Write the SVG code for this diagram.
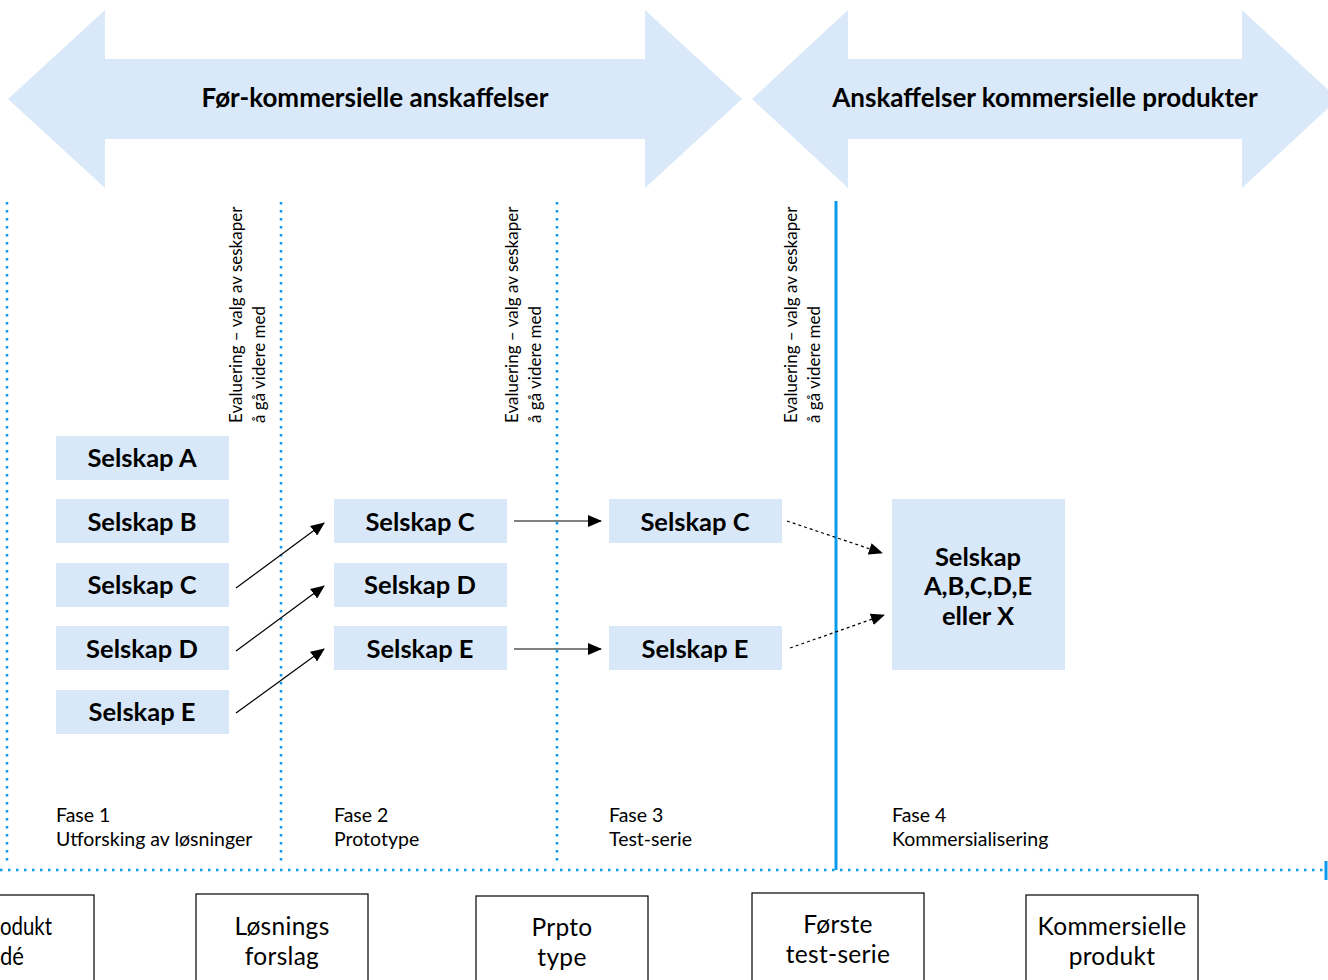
<svg xmlns="http://www.w3.org/2000/svg" width="1328" height="980" viewBox="0 0 1328 980">
<style>
.band{fill:#D9E9F9}
.box{fill:#D8E8F8}
.hdr{font-family:Lato,"Liberation Sans",sans-serif;font-weight:bold;font-size:26px;fill:#000;text-anchor:middle}
.sel{font-family:Lato,"Liberation Sans",sans-serif;font-weight:bold;font-size:25.5px;fill:#000;text-anchor:middle}
.rot{font-family:Lato,"Liberation Sans",sans-serif;font-size:17px;fill:#000}
.fase{font-family:Lato,"Liberation Sans",sans-serif;font-size:19.5px;fill:#000}
.bot{font-family:Lato,"Liberation Sans",sans-serif;font-size:24.5px;letter-spacing:0.3px;fill:#000;text-anchor:middle}
.dot{stroke:#0A9BEB;stroke-width:2.5;stroke-dasharray:2.5 5.5;fill:none}
.solid{stroke:#0A9BEB;stroke-width:3;fill:none}
.con{stroke:#000;stroke-width:1.2;fill:none}
.dash{stroke:#000;stroke-width:1.2;stroke-dasharray:3 3;fill:none}
.bbox{fill:#fff;stroke:#000;stroke-width:1.2}
</style>
<defs>
<marker id="ah" markerWidth="14" markerHeight="12" refX="13" refY="6" orient="auto" markerUnits="userSpaceOnUse">
<path d="M0,0 L14,6 L0,12 Z" fill="#000"/>
</marker>
</defs>
<rect width="1328" height="980" fill="#fff"/>

<g id="band-pre">
<polygon class="band" points="8,99 105,10 105,59 645,59 645,10 742,99 645,188 645,139 105,139 105,188"/>
<text class="hdr" x="375" y="107">Før-kommersielle anskaffelser</text>
</g>
<g id="band-com">
<polygon class="band" points="752,99 848,10 848,59 1242,59 1242,10 1338,99 1242,188 1242,139 848,139 848,188"/>
<text class="hdr" x="1045" y="107">Anskaffelser kommersielle produkter</text>
</g>

<g id="dividers">
<line class="dot" x1="7" y1="202" x2="7" y2="866"/>
<line class="dot" x1="281" y1="202" x2="281" y2="866"/>
<line class="dot" x1="557" y1="202" x2="557" y2="866"/>
<line class="solid" x1="836" y1="201" x2="836" y2="870"/>
<line class="dot" x1="0" y1="870" x2="1324" y2="870"/>
<line class="solid" x1="1326" y1="861" x2="1326" y2="880"/>
</g>

<g id="eval1"><text class="rot" transform="translate(242,423) rotate(-90)">Evaluering – valg av seskaper</text><text class="rot" transform="translate(265,423) rotate(-90)">å gå videre med</text></g>
<g id="eval2"><text class="rot" transform="translate(518,423) rotate(-90)">Evaluering – valg av seskaper</text><text class="rot" transform="translate(541,423) rotate(-90)">å gå videre med</text></g>
<g id="eval3"><text class="rot" transform="translate(797,423) rotate(-90)">Evaluering – valg av seskaper</text><text class="rot" transform="translate(820,423) rotate(-90)">å gå videre med</text></g>

<g id="f1-a"><rect class="box" x="56" y="436" width="173" height="44"/><text class="sel" x="142" y="467">Selskap A</text></g>
<g id="f1-b"><rect class="box" x="56" y="499" width="173" height="44"/><text class="sel" x="142" y="531">Selskap B</text></g>
<g id="f1-c"><rect class="box" x="56" y="563" width="173" height="44"/><text class="sel" x="142" y="594">Selskap C</text></g>
<g id="f1-d"><rect class="box" x="56" y="626" width="173" height="44"/><text class="sel" x="142" y="658">Selskap D</text></g>
<g id="f1-e"><rect class="box" x="56" y="690" width="173" height="44"/><text class="sel" x="142" y="721">Selskap E</text></g>

<g id="f2-c"><rect class="box" x="334" y="499" width="173" height="44"/><text class="sel" x="420" y="531">Selskap C</text></g>
<g id="f2-d"><rect class="box" x="334" y="563" width="173" height="44"/><text class="sel" x="420" y="594">Selskap D</text></g>
<g id="f2-e"><rect class="box" x="334" y="626" width="173" height="44"/><text class="sel" x="420" y="658">Selskap E</text></g>

<g id="f3-c"><rect class="box" x="609" y="499" width="173" height="44"/><text class="sel" x="695" y="531">Selskap C</text></g>
<g id="f3-e"><rect class="box" x="609" y="626" width="173" height="44"/><text class="sel" x="695" y="658">Selskap E</text></g>

<g id="f4"><rect class="box" x="892" y="499" width="173" height="171"/>
<text class="sel" x="978" y="566">Selskap</text>
<text class="sel" x="978" y="595">A,B,C,D,E</text>
<text class="sel" x="978" y="625">eller X</text></g>

<g id="connectors">
<line class="con" x1="236" y1="588" x2="324" y2="523" marker-end="url(#ah)"/>
<line class="con" x1="236" y1="651" x2="324" y2="586" marker-end="url(#ah)"/>
<line class="con" x1="236" y1="713" x2="324" y2="649" marker-end="url(#ah)"/>
<line class="con" x1="514" y1="521" x2="601" y2="521" marker-end="url(#ah)"/>
<line class="con" x1="514" y1="649" x2="601" y2="649" marker-end="url(#ah)"/>
<line class="dash" x1="787" y1="521" x2="882" y2="553" marker-end="url(#ah)"/>
<line class="dash" x1="790" y1="648" x2="884" y2="615" marker-end="url(#ah)"/>
</g>

<g id="fase1"><text class="fase" x="56" y="822">Fase 1</text><text class="fase" x="56" y="846">Utforsking av løsninger</text></g>
<g id="fase2"><text class="fase" x="334" y="822">Fase 2</text><text class="fase" x="334" y="846">Prototype</text></g>
<g id="fase3"><text class="fase" x="609" y="822">Fase 3</text><text class="fase" x="609" y="846">Test-serie</text></g>
<g id="fase4"><text class="fase" x="892" y="822">Fase 4</text><text class="fase" x="892" y="846">Kommersialisering</text></g>

<g id="b1"><rect class="bbox" x="-78" y="895" width="172" height="100"/><text class="bot" x="0" y="935" style="text-anchor:start;letter-spacing:0" textLength="52" lengthAdjust="spacingAndGlyphs">odukt</text><text class="bot" x="0" y="964.5" style="text-anchor:start;letter-spacing:0" textLength="24" lengthAdjust="spacingAndGlyphs">dé</text></g>
<g id="b2"><rect class="bbox" x="196" y="894" width="172" height="100"/><text class="bot" x="282" y="935">Løsnings</text><text class="bot" x="282" y="964.5">forslag</text></g>
<g id="b3"><rect class="bbox" x="476" y="896" width="172" height="100"/><text class="bot" x="562" y="936">Prpto</text><text class="bot" x="562" y="965.5">type</text></g>
<g id="b4"><rect class="bbox" x="752" y="893" width="172" height="100"/><text class="bot" x="838" y="933">Første</text><text class="bot" x="838" y="962.5">test-serie</text></g>
<g id="b5"><rect class="bbox" x="1026" y="895" width="172" height="100"/><text class="bot" x="1112" y="935">Kommersielle</text><text class="bot" x="1112" y="964.5">produkt</text></g>
</svg>
